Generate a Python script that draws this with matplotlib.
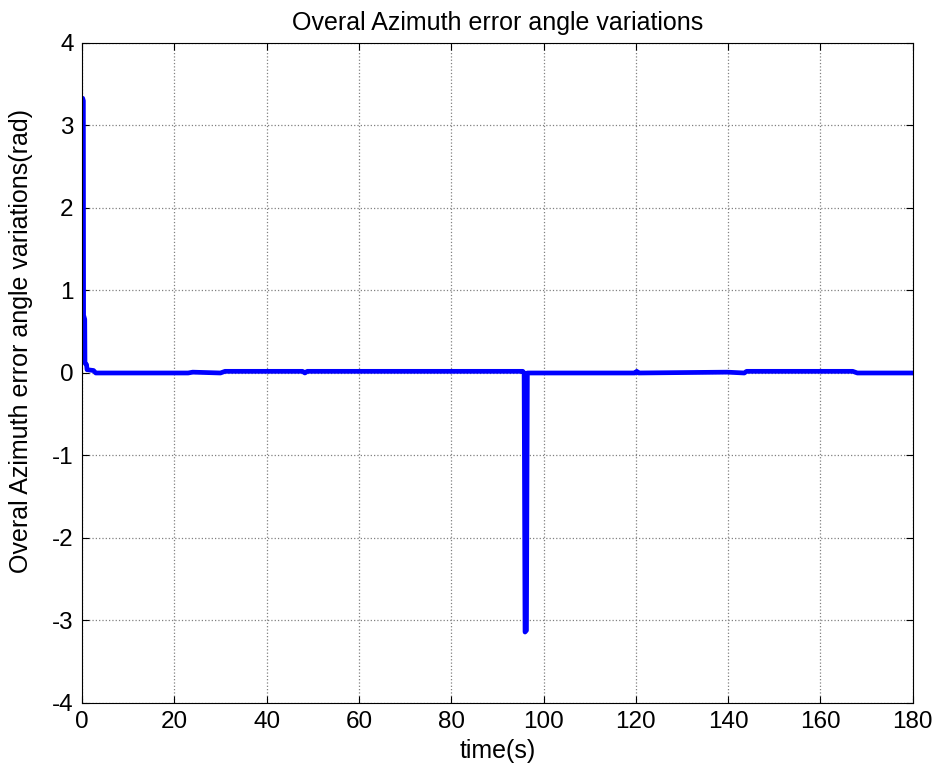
import matplotlib
matplotlib.use('Agg')
import matplotlib.pyplot as plt

plt.rcParams['font.family'] = ['Liberation Sans', 'DejaVu Sans']
plt.rcParams['axes.unicode_minus'] = False

# time (s) and azimuth error angle (rad)
time = [0, 0.15, 0.3, 0.35, 0.6, 0.65, 1.0, 1.1, 2.5, 3.0, 23.0, 24.0, 30.0, 31.0,
        47.8, 48.3, 48.8, 95.5, 95.8, 96.0, 96.3, 96.5, 119.8, 120.2, 120.6,
        139.8, 143.5, 144.0, 167.0, 168.0, 180.0]
angle = [3.33, 3.33, 3.3, 0.7, 0.65, 0.12, 0.1, 0.04, 0.03, 0.0, 0.0, 0.01, 0.0, 0.02,
         0.02, 0.0, 0.02, 0.02, 0.0, -3.14, -3.12, 0.0, 0.0, 0.02, 0.0,
         0.01, 0.0, 0.02, 0.02, 0.0, 0.0]

fig = plt.figure(figsize=(9.4, 7.76), dpi=100)
ax = fig.add_axes([0.0872, 0.0941, 0.8838, 0.8505])

ax.plot(time, angle, color='#0000ff', linewidth=3.4, solid_joinstyle='round')

ax.set_xlim(0, 180)
ax.set_ylim(-4, 4)
ax.set_xticks(range(0, 181, 20))
ax.set_yticks(range(-4, 5))
ax.grid(True, color='#808080', linestyle=':', linewidth=0.9)
ax.tick_params(direction='in', top=True, right=True, labelsize=17.5, length=5, pad=6)
for s in ax.spines.values():
    s.set_linewidth(0.8)

ax.set_title('Overal Azimuth error angle variations', fontsize=18, pad=9)
ax.set_xlabel('time(s)', fontsize=18, labelpad=4)
ax.set_ylabel('Overal Azimuth error angle variations(rad)', fontsize=18)
ax.yaxis.set_label_coords(-0.059, 0.548)

fig.savefig('out.png', dpi=100, facecolor='white')
